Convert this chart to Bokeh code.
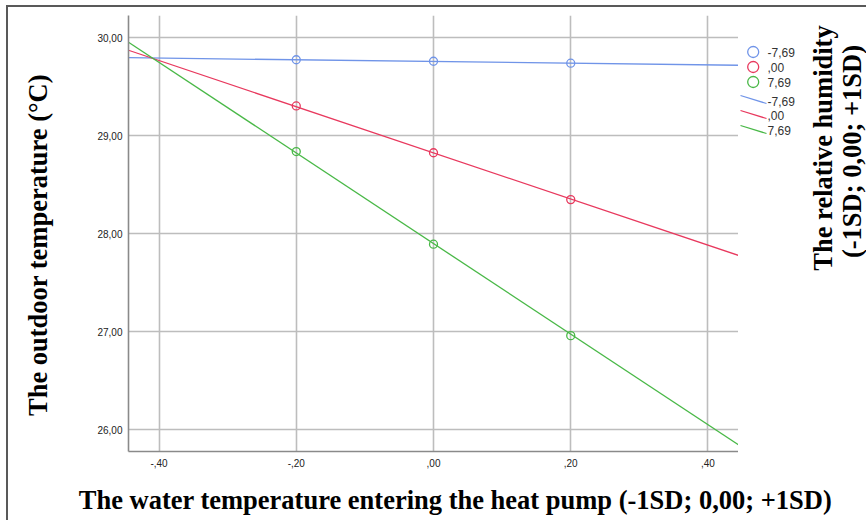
import math
from bokeh.plotting import figure
from bokeh.layouts import row, column
from bokeh.models import Range1d, FixedTicker
from bokeh.core.properties import value
from bokeh.embed import file_html
from bokeh.resources import INLINE

# ---------------- data ----------------
humidity_labels = ["-7,69", ",00", "7,69"]
colors = ["#7094e8", "#e8395e", "#49b847"]

x_points = [-0.20, 0.00, 0.20]
blue_points = [29.777, 29.762, 29.742]
red_points = [29.306, 28.828, 28.350]
green_points = [28.840, 27.895, 26.962]

x_line = [-0.4445, 0.4445]
blue_line = [29.798, 29.721]
red_line = [29.874, 27.780]
green_line = [29.956, 25.847]

x_ticks = [-0.4, -0.2, 0.0, 0.2, 0.4]
x_tick_labels = ["-,40", "-,20", ",00", ",20", ",40"]
y_ticks = [26, 27, 28, 29, 30]
y_tick_labels = ["26,00", "27,00", "28,00", "29,00", "30,00"]

x_title = "The water temperature entering the heat pump (-1SD; 0,00; +1SD)"
y_title = "The outdoor temperature (\u00b0C)"
r_title_1 = "The relative humidity"
r_title_2 = "(-1SD; 0,00; +1SD)"

# ---------------- layout (page pixels) ----------------
# content origin at page (8, 7) after margin + 2px CSS border
OX, OY = 8, 7
ROW_BOTTOM = 472
FRAME_TOP, FRAME_BOTTOM = 15, 451
LEFT_X1, MAIN_X1, RIGHT_X1 = 56, 738, 866
BOT_Y1 = 520
BORDER = "#595959"
TITLE_FONT = value("Liberation Serif")
TITLE_SIZE = value("26.5px")
LEG_FONT = value("Liberation Sans")
LEG_SIZE = value("12px")

ROW_H = ROW_BOTTOM - OY
MB_TOP = FRAME_TOP - OY
MB_BOT = ROW_BOTTOM - FRAME_BOTTOM


def strip(x0, x1, y0, y1, mb_top=0, mb_bot=0):
    """figure whose data coords equal page x and minus page y"""
    h = y1 - y0 + mb_top + mb_bot
    f = figure(width=x1 - x0, height=h, output_backend="svg",
               toolbar_location=None,
               x_range=Range1d(x0, x1), y_range=Range1d(-y1, -y0),
               x_axis_type=None, y_axis_type=None, min_border=0,
               min_border_top=mb_top, min_border_bottom=mb_bot)
    f.outline_line_color = None
    f.background_fill_color = "white"
    f.border_fill_color = "white"
    return f


# ---------------- main plot ----------------
p = figure(width=MAIN_X1 - LEFT_X1, height=ROW_H, output_backend="svg",
           toolbar_location=None,
           x_range=Range1d(-0.4445, 0.4445), y_range=Range1d(25.7796, 30.2286),
           min_border_left=128 - LEFT_X1, min_border_right=0,
           min_border_top=MB_TOP, min_border_bottom=MB_BOT)
p.outline_line_color = None
p.background_fill_color = "white"
p.border_fill_color = "white"

for ax in (p.xaxis[0], p.yaxis[0]):
    ax.axis_line_color = "#8a8a8a"
    ax.axis_line_width = 1.6
    ax.major_tick_line_color = None
    ax.minor_tick_line_color = None
    ax.major_tick_out = 0
    ax.major_tick_in = 0
    ax.major_label_text_font = "Liberation Sans"
    ax.major_label_text_font_size = "10px"
    ax.major_label_text_color = "#222222"

p.xaxis.ticker = FixedTicker(ticks=x_ticks)
p.yaxis.ticker = FixedTicker(ticks=y_ticks)
p.xaxis.major_label_overrides = {t: s for t, s in zip(x_ticks, x_tick_labels)}
p.yaxis.major_label_overrides = {t: s for t, s in zip(y_ticks, y_tick_labels)}
p.xaxis.major_label_standoff = 7
p.yaxis.major_label_standoff = 6

p.xgrid.ticker = FixedTicker(ticks=x_ticks)
p.ygrid.ticker = FixedTicker(ticks=y_ticks)
for g in (p.xgrid[0], p.ygrid[0]):
    g.grid_line_color = "#bdbdbd"
    g.grid_line_width = 1.6

series = [blue_points, red_points, green_points]
lines = [blue_line, red_line, green_line]
for c, ln in zip(colors, lines):
    p.line(x_line, ln, line_color=c, line_width=1.3)
for c, pts in zip(colors, series):
    p.scatter(x_points, pts, marker="circle", size=8, line_color=c,
              line_width=1.3, fill_color=None)

# ---------------- left strip (y title) ----------------
p_left = strip(OX, LEFT_X1, FRAME_TOP, FRAME_BOTTOM, MB_TOP, MB_BOT)
p_left.text(x=[37], y=[-244.5], text=[y_title], angle=math.pi / 2,
            text_align="center", text_baseline="alphabetic",
            text_font=TITLE_FONT, text_font_style="bold",
            text_font_size=TITLE_SIZE, text_color="black")

# ---------------- right strip (legend + right title) ----------------
p_right = strip(MAIN_X1, RIGHT_X1, FRAME_TOP, FRAME_BOTTOM, MB_TOP, MB_BOT)
for i, (c, lab) in enumerate(zip(colors, humidity_labels)):
    yc = 51.5 + 15 * i
    p_right.scatter(x=[752.7], y=[-yc], marker="circle", size=11,
                    line_color=c, line_width=1.3, fill_color=None)
    p_right.text(x=[767], y=[-yc], text=[lab], text_align="left",
                 text_baseline="middle", text_font=LEG_FONT,
                 text_font_size=LEG_SIZE, text_color="#333333")

for i, (c, lab) in enumerate(zip(colors, humidity_labels)):
    ys = 95 + 15 * i
    p_right.segment(x0=[740], y0=[-ys], x1=[766], y1=[-(ys + 8)],
                    line_color=c, line_width=1.3)
    p_right.text(x=[767], y=[-(100.5 + 14.5 * i)], text=[lab],
                 text_align="left", text_baseline="middle",
                 text_font=LEG_FONT, text_font_size=LEG_SIZE,
                 text_color="#333333")

p_right.text(x=[822], y=[-147.5], text=[r_title_1], angle=math.pi / 2,
             text_align="center", text_baseline="alphabetic",
             text_font=TITLE_FONT, text_font_style="bold",
             text_font_size=TITLE_SIZE, text_color="black")
p_right.text(x=[851], y=[-151], text=[r_title_2], angle=math.pi / 2,
             text_align="center", text_baseline="alphabetic",
             text_font=TITLE_FONT, text_font_style="bold",
             text_font_size=TITLE_SIZE, text_color="black")

# ---------------- bottom strip (x title) ----------------
p_bot = strip(OX, RIGHT_X1, ROW_BOTTOM, BOT_Y1)
p_bot.text(x=[455], y=[-499], text=[x_title], text_align="center",
           text_baseline="alphabetic", text_font=TITLE_FONT,
           text_font_style="bold", text_font_size=TITLE_SIZE,
           text_color="black")

layout = column(row(p_left, p, p_right, spacing=0), p_bot, spacing=0,
                margin=(5, 0, 0, 6),
                styles={"border-left": "2px solid " + BORDER,
                        "border-top": "2px solid " + BORDER})

open("out.html", "w").write(file_html(layout, INLINE))
